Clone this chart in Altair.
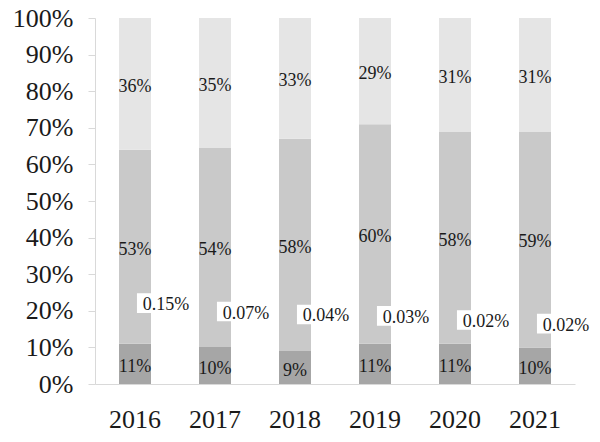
import altair as alt
import pandas as pd

years = ["2016", "2017", "2018", "2019", "2020", "2021"]
low = [11, 10, 9, 11, 11, 10]
mid = [53, 54, 58, 60, 58, 59]
high = [36, 35, 33, 29, 31, 31]
tiny = [0.15, 0.07, 0.04, 0.03, 0.02, 0.02]
tiny_label_at = [22.1, 19.8, 19.0, 18.6, 17.5, 16.5]
y_ticks = [0, 10, 20, 30, 40, 50, 60, 70, 80, 90, 100]

series = ["low", "mid", "high"]
colors = ["#a6a6a6", "#c9c9c9", "#e5e5e5"]

rows = []
for i, y in enumerate(years):
    for s, vals in zip(series, [low, mid, high]):
        rows.append({"year": y, "series": s, "order": series.index(s), "value": vals[i]})
df = pd.DataFrame(rows)

tdf = pd.DataFrame({"year": years, "tiny": tiny, "at": [v / 100 for v in tiny_label_at],
                    "label": [f"{v:.2f}%" for v in tiny]})

FONT = "Liberation Serif"
INK = "#1a1a1a"

xenc = alt.X("year:N", sort=years, title=None,
             scale=alt.Scale(paddingInner=0.6, paddingOuter=0.3),
             axis=alt.Axis(labelAngle=0, labelFont=FONT, labelFontSize=26, labelColor=INK,
                           ticks=False, domainColor="#d9d9d9", labelPadding=22))

yscale = alt.Scale(domain=[0, 1], nice=False)
yaxis = alt.Axis(format=".0%", values=[v / 100 for v in y_ticks], labelFont=FONT,
                 labelFontSize=26, labelColor=INK, grid=False, labelOverlap=False,
                 domainColor="#d9d9d9", tickColor="#d9d9d9", tickSize=7,
                 labelPadding=15, title=None)

base = alt.Chart(df).transform_stack(
    stack="value", groupby=["year"], as_=["y0", "y1"], offset="normalize",
    sort=[alt.SortField("order", order="ascending")]
).transform_calculate(mid="(datum.y0 + datum.y1) / 2", label="datum.value + '%'")

bars = base.mark_bar().encode(
    x=xenc,
    y=alt.Y("y0:Q", scale=yscale, axis=yaxis),
    y2="y1:Q",
    color=alt.Color("series:N", scale=alt.Scale(domain=series, range=colors), legend=None),
)

texts = base.mark_text(font=FONT, fontSize=18, color=INK, dy=3).encode(
    x=xenc,
    y=alt.Y("mid:Q", scale=yscale, axis=yaxis),
    text="label:N",
)

# white label box, shifted right of the bar centre (unit = 28px at size 3136)
boxes = alt.Chart(tdf).mark_point(
    shape="M0.07,-0.35L2.14,-0.35L2.14,0.35L0.07,0.35Z", filled=True, color="white",
    opacity=1, size=3136, strokeWidth=0
).encode(
    x=xenc,
    y=alt.Y("at:Q", scale=yscale, axis=yaxis),
)

tiny_text = alt.Chart(tdf).mark_text(font=FONT, fontSize=18, color=INK, dx=31, dy=2).encode(
    x=xenc,
    y=alt.Y("at:Q", scale=yscale, axis=yaxis),
    text="label:N",
)

chart = alt.layer(bars, texts, boxes, tiny_text).properties(
    width=480, height=366,
    autosize=alt.AutoSizeParams(type="none"),
    padding={"left": 87, "top": 10, "right": 17, "bottom": 50},
).configure_view(stroke=None)

chart.save("out.html", embed_options={"renderer": "svg", "actions": False})
